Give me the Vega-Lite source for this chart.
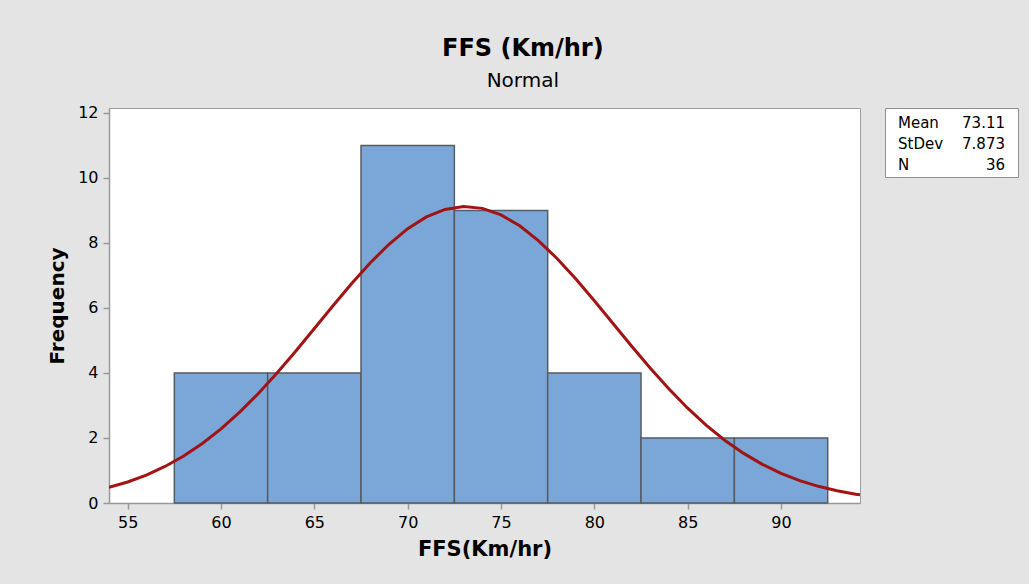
{
  "$schema": "https://vega.github.io/schema/vega-lite/v6.json",
  "autosize": {"type": "pad"},
  "padding": {"left": 47, "top": 37, "right": 13, "bottom": 30},
  "background": "#e4e4e4",
  "config": {
    "font": "DejaVu Sans",
    "view": {"fill": "white", "stroke": "#a0a0a0"}
  },
  "title": {
    "text": "FFS (Km/hr)",
    "subtitle": "Normal",
    "font": "DejaVu Sans",
    "fontSize": 24,
    "fontWeight": "bold",
    "color": "black",
    "subtitleFont": "DejaVu Sans",
    "subtitleFontSize": 20,
    "subtitleColor": "black",
    "subtitlePadding": 10,
    "anchor": "middle",
    "offset": 13,
    "dx": -10
  },
  "datasets": {
    "bins": [
      {"bin_start": 57.5, "bin_end": 62.5, "count": 4},
      {"bin_start": 62.5, "bin_end": 67.5, "count": 4},
      {"bin_start": 67.5, "bin_end": 72.5, "count": 11},
      {"bin_start": 72.5, "bin_end": 77.5, "count": 9},
      {"bin_start": 77.5, "bin_end": 82.5, "count": 4},
      {"bin_start": 82.5, "bin_end": 87.5, "count": 2},
      {"bin_start": 87.5, "bin_end": 92.5, "count": 2}
    ],
    "curve": [
      {"ffs": 54, "freq": 0.479}, {"ffs": 55, "freq": 0.647}, {"ffs": 56, "freq": 0.860},
      {"ffs": 57, "freq": 1.124}, {"ffs": 58, "freq": 1.446}, {"ffs": 59, "freq": 1.831},
      {"ffs": 60, "freq": 2.280}, {"ffs": 61, "freq": 2.794}, {"ffs": 62, "freq": 3.370},
      {"ffs": 63, "freq": 3.999}, {"ffs": 64, "freq": 4.670}, {"ffs": 65, "freq": 5.366},
      {"ffs": 66, "freq": 6.066}, {"ffs": 67, "freq": 6.750}, {"ffs": 68, "freq": 7.389},
      {"ffs": 69, "freq": 7.959}, {"ffs": 70, "freq": 8.437}, {"ffs": 71, "freq": 8.799},
      {"ffs": 72, "freq": 9.031}, {"ffs": 73, "freq": 9.120}, {"ffs": 74, "freq": 9.063},
      {"ffs": 75, "freq": 8.862}, {"ffs": 76, "freq": 8.527}, {"ffs": 77, "freq": 8.073},
      {"ffs": 78, "freq": 7.521}, {"ffs": 79, "freq": 6.895}, {"ffs": 80, "freq": 6.219},
      {"ffs": 81, "freq": 5.520}, {"ffs": 82, "freq": 4.822}, {"ffs": 83, "freq": 4.144},
      {"ffs": 84, "freq": 3.504}, {"ffs": 85, "freq": 2.916}, {"ffs": 86, "freq": 2.388},
      {"ffs": 87, "freq": 1.924}, {"ffs": 88, "freq": 1.526}, {"ffs": 89, "freq": 1.190},
      {"ffs": 90, "freq": 0.914}, {"ffs": 91, "freq": 0.690}, {"ffs": 92, "freq": 0.513},
      {"ffs": 93, "freq": 0.375}, {"ffs": 94, "freq": 0.270}, {"ffs": 94.23, "freq": 0.250}
    ],
    "stats": [
      {"stat": "Mean", "col": "label", "text": "Mean"},
      {"stat": "Mean", "col": "value", "text": "73.11"},
      {"stat": "StDev", "col": "label", "text": "StDev"},
      {"stat": "StDev", "col": "value", "text": "7.873"},
      {"stat": "N", "col": "label", "text": "N"},
      {"stat": "N", "col": "value", "text": "36"}
    ]
  },
  "spacing": 23,
  "hconcat": [
    {
      "width": 751,
      "height": 395,
      "view": {"fill": "white", "stroke": "#a0a0a0"},
      "layer": [
        {
          "data": {"name": "bins"},
          "mark": {"type": "rect", "fill": "#7ba7d8", "stroke": "#555c64", "strokeWidth": 1.5},
          "encoding": {
            "x": {
              "field": "bin_start", "type": "quantitative",
              "scale": {"domain": [54, 94.23], "nice": false, "zero": false},
              "axis": {
                "title": "FFS(Km/hr)", "values": [55, 60, 65, 70, 75, 80, 85, 90],
                "grid": false, "tickSize": 6, "tickColor": "#999999", "domainColor": "#999999",
                "domainWidth": 1.5, "tickWidth": 1.5,
                "labelFont": "DejaVu Sans", "labelFontSize": 16, "labelColor": "black", "labelPadding": 5,
                "titleFont": "DejaVu Sans", "titleFontSize": 21, "titleFontWeight": "bold",
                "titleColor": "black", "titlePadding": 8
              }
            },
            "x2": {"field": "bin_end"},
            "y": {
              "field": "count", "type": "quantitative",
              "scale": {"domain": [0, 12.15], "nice": false},
              "axis": {
                "title": "Frequency", "values": [0, 2, 4, 6, 8, 10, 12],
                "grid": false, "tickSize": 6, "tickColor": "#999999", "domainColor": "#999999",
                "domainWidth": 1.5, "tickWidth": 1.5,
                "labelFont": "DejaVu Sans", "labelFontSize": 16, "labelColor": "black", "labelPadding": 5,
                "titleFont": "DejaVu Sans", "titleFontSize": 20, "titleFontWeight": "bold",
                "titleColor": "black", "titlePadding": 10
              }
            }
          }
        },
        {
          "data": {"name": "curve"},
          "mark": {"type": "line", "color": "#a01414", "strokeWidth": 3, "clip": true},
          "encoding": {
            "x": {"field": "ffs", "type": "quantitative"},
            "y": {"field": "freq", "type": "quantitative"}
          }
        }
      ]
    },
    {
      "width": 133,
      "height": 69,
      "view": {"fill": "white", "stroke": "#909090"},
      "data": {"name": "stats"},
      "encoding": {
        "x": {"field": "col", "type": "nominal", "scale": {"type": "point", "domain": ["label", "value"], "padding": 0.1215}, "axis": null},
        "y": {"field": "stat", "type": "nominal", "scale": {"type": "point", "domain": ["Mean", "StDev", "N"], "padding": 0.643, "align": 0.556}, "axis": null},
        "text": {"field": "text", "type": "nominal"}
      },
      "layer": [
        {
          "transform": [{"filter": "datum.col === 'label'"}],
          "mark": {"type": "text", "align": "left", "baseline": "middle", "fontSize": 15, "font": "DejaVu Sans", "color": "black"}
        },
        {
          "transform": [{"filter": "datum.col === 'value'"}],
          "mark": {"type": "text", "align": "right", "baseline": "middle", "fontSize": 15, "font": "DejaVu Sans", "color": "black"}
        }
      ]
    }
  ]
}
